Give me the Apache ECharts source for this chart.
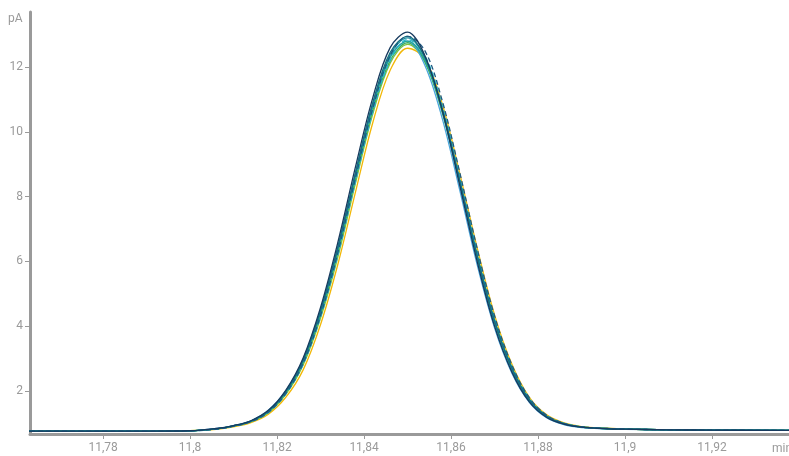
<!DOCTYPE html>
<html><head><meta charset="utf-8">
<script src="https://cdn.jsdelivr.net/npm/echarts@6/dist/echarts.min.js"></script>
<style>html,body{margin:0;padding:0;background:#fff}#c{width:789px;height:456px}</style>
</head><body><div id="c"></div>
<script>
const times = [11.7614,11.78,11.79,11.8,11.806,11.81,11.814,11.818,11.822,11.826,11.83,11.834,11.838,11.842,11.846,11.85,11.854,11.858,11.862,11.866,11.87,11.874,11.878,11.882,11.886,11.89,11.896,11.9,11.91,11.92,11.9377];
const xTicks = [11.78,11.8,11.82,11.84,11.86,11.88,11.9,11.92];
const yTicks = [2,4,6,8,10,12];
const s1 = [0.76,0.76,0.76,0.77,0.84,0.93,1.08,1.4,2.02,3.02,4.58,6.6,8.9,11.05,12.6,13.08,12.35,10.65,8.35,6.0,4.0,2.58,1.66,1.18,0.97,0.88,0.83,0.82,0.8,0.79,0.78];
const s2 = [0.76,0.76,0.76,0.77,0.83,0.92,1.07,1.38,1.98,2.95,4.48,6.45,8.72,10.9,12.45,12.95,12.3,10.7,8.5,6.18,4.16,2.7,1.73,1.22,0.99,0.89,0.84,0.82,0.8,0.79,0.78];
const s3 = [0.76,0.76,0.76,0.77,0.83,0.92,1.06,1.37,1.96,2.92,4.42,6.38,8.65,10.8,12.38,12.9,12.28,10.68,8.48,6.16,4.14,2.68,1.72,1.21,0.98,0.88,0.83,0.82,0.8,0.79,0.78];
const s4 = [0.76,0.76,0.76,0.77,0.82,0.91,1.05,1.33,1.9,2.82,4.28,6.2,8.45,10.6,12.2,12.85,12.35,10.8,8.6,6.3,4.25,2.76,1.77,1.24,1.0,0.89,0.84,0.82,0.8,0.79,0.78];
const s5 = [0.76,0.76,0.76,0.77,0.84,0.93,1.08,1.4,2.0,2.98,4.5,6.45,8.7,10.82,12.32,12.8,12.05,10.4,8.2,5.9,3.95,2.55,1.65,1.17,0.96,0.87,0.83,0.81,0.8,0.79,0.78];
const s6 = [0.76,0.76,0.76,0.77,0.83,0.92,1.06,1.35,1.93,2.87,4.35,6.28,8.52,10.65,12.2,12.75,12.15,10.58,8.4,6.12,4.12,2.67,1.71,1.2,0.98,0.88,0.83,0.82,0.8,0.79,0.78];
const s7 = [0.76,0.76,0.76,0.77,0.82,0.91,1.05,1.33,1.89,2.8,4.25,6.15,8.4,10.55,12.12,12.7,12.18,10.65,8.5,6.22,4.2,2.72,1.74,1.22,0.99,0.89,0.84,0.82,0.8,0.79,0.78];
const s8 = [0.76,0.76,0.76,0.77,0.81,0.89,1.02,1.28,1.8,2.65,4.05,5.92,8.12,10.28,11.9,12.58,12.25,10.85,8.72,6.42,4.35,2.82,1.8,1.26,1.01,0.9,0.85,0.82,0.8,0.79,0.78];
const s9 = [0.76,0.76,0.76,0.77,0.83,0.92,1.07,1.37,1.97,2.93,4.44,6.4,8.66,10.78,12.3,12.8,12.22,10.64,8.45,6.15,4.13,2.68,1.72,1.21,0.98,0.88,0.83,0.82,0.8,0.79,0.78];
const s10 = [0.76,0.76,0.76,0.77,0.82,0.91,1.05,1.34,1.92,2.85,4.33,6.28,8.55,10.72,12.35,12.95,12.5,10.95,8.75,6.4,4.32,2.8,1.79,1.25,1.0,0.89,0.84,0.82,0.8,0.79,0.78];

const seriesList = [
  {d:s8, c:'#f2b705', dash:false},
  {d:s7, c:'#7cc242', dash:false},
  {d:s6, c:'#3fae5a', dash:false},
  {d:s5, c:'#4aa6dc', dash:false},
  {d:s9, c:'#23a59a', dash:false},
  {d:s4, c:'#27b7cc', dash:true},
  {d:s3, c:'#1d8fa0', dash:false},
  {d:s2, c:'#13707f', dash:false},
  {d:s10, c:'#1f5a82', dash:true},
  {d:s1, c:'#173a5e', dash:false}
];
const lbl = {color:'#9a9a9a', fontFamily:'Roboto', fontSize:12};
const chart = echarts.init(document.getElementById('c'), null, {renderer:'canvas'});
chart.setOption({
  animation:false,
  grid:{left:30, right:0, top:12, bottom:22, containLabel:false},
  xAxis:{type:'value', min:11.7632, max:11.9377,
    axisLine:{lineStyle:{color:'#9a9a9a', width:3}},
    axisTick:{show:true, customValues:xTicks, length:5, lineStyle:{color:'#9a9a9a'}},
    axisLabel:Object.assign({customValues:xTicks, margin:8, formatter:v=>String(+v.toFixed(2)).replace('.',',')}, lbl),
    splitLine:{show:false}},
  yAxis:{type:'value', min:0.67, max:13.7,
    axisLine:{show:true, lineStyle:{color:'#9a9a9a', width:3}},
    axisTick:{show:true, customValues:yTicks, length:5, lineStyle:{color:'#9a9a9a'}},
    axisLabel:Object.assign({customValues:yTicks, margin:7}, lbl),
    splitLine:{show:false}},
  graphic:[
    {type:'text', left:8, top:13, style:{text:'pA', fill:'#9a9a9a', font:'12px Roboto'}},
    {type:'text', left:772, top:443, style:{text:'min', fill:'#9a9a9a', font:'12px Roboto'}}
  ],
  series: seriesList.map(s=>({type:'line', data:times.map((t,i)=>[t,s.d[i]]), showSymbol:false, smooth:0.35,
    lineStyle:{color:s.c, width:1.3, type:s.dash?[5,3]:'solid'}, clip:false}))
});
</script></body></html>
